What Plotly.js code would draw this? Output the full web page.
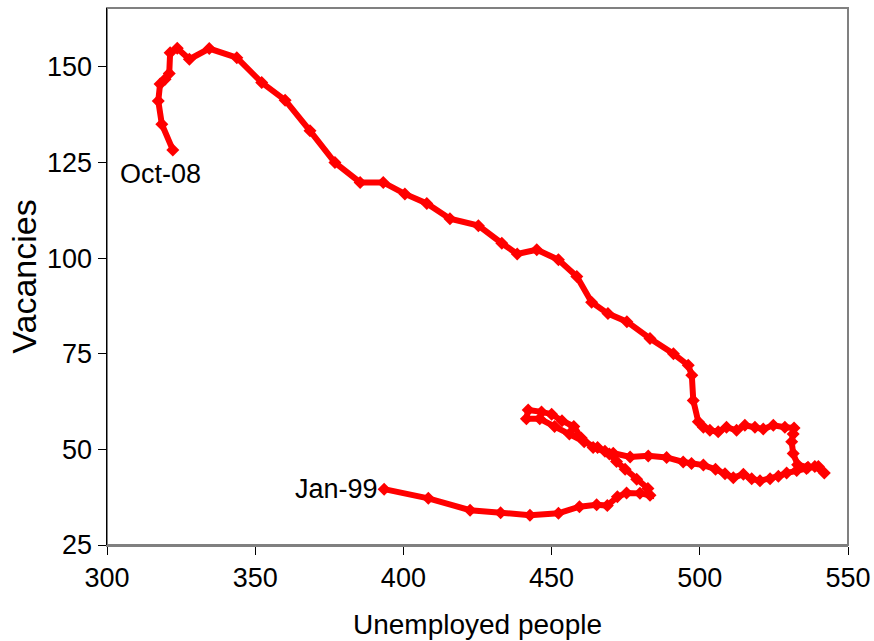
<!DOCTYPE html>
<html>
<head>
<meta charset="utf-8">
<script src="https://cdn.plot.ly/plotly-3.0.1.min.js"></script>
<style>html,body{margin:0;padding:0;background:#fff}#chart{width:874px;height:641px}</style>
</head>
<body>
<div id="chart"></div>
<script>
// Unemployed people (x) and vacancies (y), Jan-99 ... Oct-08
var unemployed = [
  393.5, 408.4, 422.5, 432.8, 442.7, 452.3, 459.4, 465.2, 468.8, 472.2, 475.3, 479.8, 483.2,
  482.5, 478.7, 474.8, 471.9, 469.5,
  465.5, 461.0, 456.0, 451.0, 446.0, 441.5, 442.1, 446.6, 450.0, 453.5, 457.5, 460.0, 464.0, 468.0,
  470.8, 476.5, 482.6, 488.8, 494.4, 497.2, 501.2, 505.3, 508.5, 511.3, 514.7, 517.5, 520.3, 523.7,
  526.5, 529.3, 532.7, 536.0, 538.8, 542.0, 540.0, 536.5, 533.0,
  531.5, 531.0, 531.5, 531.8,
  528.7, 524.8, 521.4, 518.6, 515.2, 512.4, 509.0, 506.2, 503.4, 501.2, 499.5,
  497.8, 497.3, 496.1, 491.1, 483.2, 475.4, 469.0, 463.5, 458.5, 452.3, 445.0, 438.4, 433.2,
  425.3, 415.7, 407.9, 400.5, 393.2, 385.4, 376.9, 368.5, 360.1, 352.2, 343.8, 334.5, 327.8,
  323.7, 321.3, 321.0, 319.6, 317.9, 317.3, 318.5, 322.2
];
var vacancies = [
  39.6, 37.2, 34.1, 33.4, 32.8, 33.3, 35.0, 35.5, 35.3, 37.6, 38.6, 38.5, 38.0,
  39.8, 42.2, 44.8, 46.8, 48.8,
  50.5, 52.0, 54.0, 56.0, 58.0, 58.0, 60.3, 59.8, 59.2, 57.5, 56.0, 53.0, 50.5, 49.5,
  49.0, 48.0, 48.3, 47.9, 46.7, 46.3, 45.9, 44.8, 43.6, 42.6, 43.5, 42.3, 41.8, 42.3,
  43.0, 43.8, 44.5, 45.0, 45.5, 43.8, 45.5, 45.3, 46.0,
  48.9, 52.0, 54.0, 55.6,
  55.8, 56.3, 55.3, 55.8, 56.3, 55.0, 55.8, 54.6, 55.0, 55.8, 57.2,
  62.8, 69.4, 72.0, 75.0, 79.0, 83.4, 85.5, 88.5, 95.2, 99.6, 102.2, 101.1, 103.9,
  108.5, 110.3, 114.3, 116.8, 119.8, 119.8, 125.0, 133.3, 141.3, 145.9, 152.4, 154.8, 152.0,
  154.9, 153.7, 148.3, 146.8, 145.5, 141.1, 135.0, 128.3
];
var startLabel = "Jan-99";
var endLabel = "Oct-08";
var xTicks = [300, 350, 400, 450, 500, 550];
var yTicks = [25, 50, 75, 100, 125, 150];
var xTitle = "Unemployed people";
var yTitle = "Vacancies";

var FONT = "'Liberation Sans', Arial, sans-serif";
var last = unemployed.length - 1;

var trace = {
  x: unemployed, y: vacancies,
  type: 'scatter', mode: 'lines+markers',
  line: {color: '#ff0000', width: 6},
  marker: {symbol: 'diamond', size: 10, color: '#ff0000'},
  hoverinfo: 'skip', showlegend: false
};

var layout = {
  width: 874, height: 641,
  margin: {l: 107, r: 26, t: 8, b: 96},
  paper_bgcolor: '#ffffff', plot_bgcolor: '#ffffff',
  font: {family: FONT, size: 27, color: '#000'},
  xaxis: {
    range: [300, 550], tickvals: xTicks, ticktext: xTicks.map(String),
    showgrid: false, zeroline: false,
    showline: true, linecolor: '#808080', linewidth: 2,
    ticks: 'outside', ticklen: 8, tickcolor: '#000', tickwidth: 1,
    tickfont: {family: FONT, size: 27},
    title: {text: xTitle, font: {family: FONT, size: 28}, standoff: 22}
  },
  yaxis: {
    range: [25, 165.4], tickvals: yTicks, ticktext: yTicks.map(String),
    showgrid: false, zeroline: false,
    showline: true, linecolor: '#000', linewidth: 1.5,
    ticks: 'outside', ticklen: 8, tickcolor: '#000', tickwidth: 1,
    tickfont: {family: FONT, size: 27},
    title: {text: yTitle, font: {family: FONT, size: 34}, standoff: 0}
  },
  shapes: [{
    type: 'rect', xref: 'paper', yref: 'paper', x0: 0, x1: 1, y0: 0, y1: 1,
    line: {color: '#808080', width: 2}, layer: 'below'
  }],
  annotations: [
    {x: unemployed[0], y: vacancies[0], xref: 'x', yref: 'y', text: startLabel,
     showarrow: false, xanchor: 'right', yanchor: 'middle', xshift: -4, yshift: 0,
     font: {family: FONT, size: 27, color: '#000'}},
    {x: unemployed[last], y: vacancies[last], xref: 'x', yref: 'y', text: endLabel,
     showarrow: false, xanchor: 'center', yanchor: 'top', xshift: -12, yshift: -7,
     font: {family: FONT, size: 27, color: '#000'}}
  ]
};

Plotly.newPlot('chart', [trace], layout, {displayModeBar: false, staticPlot: true});
</script>
</body>
</html>
